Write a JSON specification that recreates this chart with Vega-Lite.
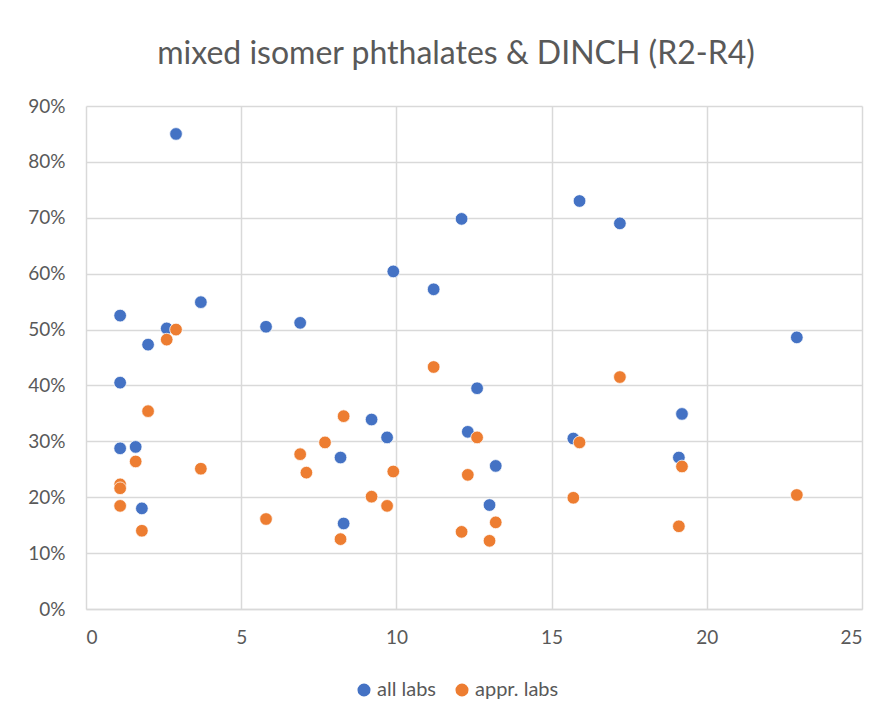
{
  "$schema": "https://vega.github.io/schema/vega-lite/v6.json",
  "width": 776,
  "height": 503,
  "autosize": "none",
  "padding": {"left": 86, "top": 106, "right": 22, "bottom": 106},
  "background": "white",
  "title": {
    "text": "mixed isomer phthalates & DINCH (R2-R4)",
    "font": "Lato",
    "fontSize": 32,
    "fontWeight": "normal",
    "color": "#595959",
    "anchor": "middle",
    "dx": -18,
    "offset": 26
  },
  "data": {
    "values": [
      {"x": 2.9, "y": 0.850, "series": "all labs"},
      {"x": 1.1, "y": 0.525, "series": "all labs"},
      {"x": 2.6, "y": 0.502, "series": "all labs"},
      {"x": 2.0, "y": 0.473, "series": "all labs"},
      {"x": 3.7, "y": 0.549, "series": "all labs"},
      {"x": 5.8, "y": 0.505, "series": "all labs"},
      {"x": 6.9, "y": 0.512, "series": "all labs"},
      {"x": 1.1, "y": 0.405, "series": "all labs"},
      {"x": 1.1, "y": 0.2875, "series": "all labs"},
      {"x": 1.6, "y": 0.290, "series": "all labs"},
      {"x": 1.8, "y": 0.180, "series": "all labs"},
      {"x": 8.2, "y": 0.271, "series": "all labs"},
      {"x": 8.3, "y": 0.153, "series": "all labs"},
      {"x": 9.2, "y": 0.339, "series": "all labs"},
      {"x": 9.7, "y": 0.307, "series": "all labs"},
      {"x": 9.9, "y": 0.604, "series": "all labs"},
      {"x": 11.2, "y": 0.572, "series": "all labs"},
      {"x": 12.1, "y": 0.698, "series": "all labs"},
      {"x": 12.6, "y": 0.395, "series": "all labs"},
      {"x": 12.3, "y": 0.317, "series": "all labs"},
      {"x": 13.2, "y": 0.256, "series": "all labs"},
      {"x": 13.0, "y": 0.186, "series": "all labs"},
      {"x": 15.9, "y": 0.730, "series": "all labs"},
      {"x": 17.2, "y": 0.690, "series": "all labs"},
      {"x": 22.9, "y": 0.486, "series": "all labs"},
      {"x": 19.2, "y": 0.349, "series": "all labs"},
      {"x": 15.7, "y": 0.305, "series": "all labs"},
      {"x": 19.1, "y": 0.271, "series": "all labs"},
      {"x": 2.9, "y": 0.500, "series": "appr. labs"},
      {"x": 2.6, "y": 0.482, "series": "appr. labs"},
      {"x": 2.0, "y": 0.354, "series": "appr. labs"},
      {"x": 1.6, "y": 0.264, "series": "appr. labs"},
      {"x": 3.7, "y": 0.251, "series": "appr. labs"},
      {"x": 1.1, "y": 0.223, "series": "appr. labs"},
      {"x": 1.1, "y": 0.216, "series": "appr. labs"},
      {"x": 1.1, "y": 0.1845, "series": "appr. labs"},
      {"x": 1.8, "y": 0.140, "series": "appr. labs"},
      {"x": 5.8, "y": 0.161, "series": "appr. labs"},
      {"x": 6.9, "y": 0.277, "series": "appr. labs"},
      {"x": 7.1, "y": 0.244, "series": "appr. labs"},
      {"x": 7.7, "y": 0.298, "series": "appr. labs"},
      {"x": 8.3, "y": 0.345, "series": "appr. labs"},
      {"x": 8.2, "y": 0.125, "series": "appr. labs"},
      {"x": 9.2, "y": 0.201, "series": "appr. labs"},
      {"x": 9.7, "y": 0.1845, "series": "appr. labs"},
      {"x": 9.9, "y": 0.246, "series": "appr. labs"},
      {"x": 11.2, "y": 0.433, "series": "appr. labs"},
      {"x": 12.6, "y": 0.307, "series": "appr. labs"},
      {"x": 12.3, "y": 0.240, "series": "appr. labs"},
      {"x": 12.1, "y": 0.138, "series": "appr. labs"},
      {"x": 13.2, "y": 0.155, "series": "appr. labs"},
      {"x": 13.0, "y": 0.122, "series": "appr. labs"},
      {"x": 15.9, "y": 0.298, "series": "appr. labs"},
      {"x": 17.2, "y": 0.415, "series": "appr. labs"},
      {"x": 15.7, "y": 0.199, "series": "appr. labs"},
      {"x": 19.2, "y": 0.255, "series": "appr. labs"},
      {"x": 19.1, "y": 0.148, "series": "appr. labs"},
      {"x": 22.9, "y": 0.204, "series": "appr. labs"}
    ]
  },
  "mark": {"type": "circle", "size": 160, "opacity": 1, "stroke": "white", "strokeWidth": 0.75},
  "encoding": {
    "x": {
      "field": "x",
      "type": "quantitative",
      "scale": {"domain": [0, 25], "nice": false, "zero": true},
      "axis": {
        "title": null,
        "values": [0, 5, 10, 15, 20, 25],
        "ticks": false,
        "labelPadding": 19,
        "labelFont": "Lato",
        "labelFontSize": 19,
        "labelColor": "#595959",
        "gridColor": "#d9d9d9",
        "gridWidth": 1.5,
        "domainColor": "#d9d9d9",
        "domainWidth": 1.5
      }
    },
    "y": {
      "field": "y",
      "type": "quantitative",
      "scale": {"domain": [0, 0.9], "nice": false},
      "axis": {
        "title": null,
        "format": ".0%",
        "values": [0, 0.1, 0.2, 0.3, 0.4, 0.5, 0.6, 0.7, 0.8, 0.9],
        "ticks": false,
        "domain": false,
        "labelPadding": 21,
        "labelFont": "Lato",
        "labelFontSize": 19,
        "labelColor": "#595959",
        "gridColor": "#d9d9d9",
        "gridWidth": 1.5
      }
    },
    "color": {
      "field": "series",
      "type": "nominal",
      "scale": {"domain": ["all labs", "appr. labs"], "range": ["#4472C4", "#ED7D31"]},
      "legend": {
        "title": null,
        "orient": "none",
        "direction": "horizontal",
        "legendX": 268,
        "legendY": 574,
        "symbolType": "circle",
        "symbolSize": 170,
        "symbolStrokeWidth": 0,
        "labelFont": "Lato",
        "labelFontSize": 20,
        "labelColor": "#595959",
        "labelOffset": 3,
        "columnPadding": 15
      }
    }
  },
  "config": {
    "view": {"stroke": null}
  }
}
